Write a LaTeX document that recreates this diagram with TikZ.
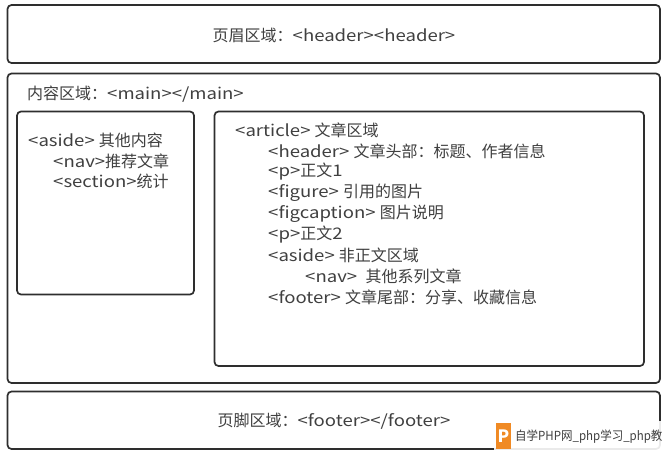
\documentclass[tikz,border=0pt]{standalone}
\usepackage{fontspec}
\setmainfont{Noto Sans CJK SC}[FakeStretch=1.16]
\newfontfamily\cjkfont{Noto Sans CJK SC}
\newfontfamily\wmfont{Noto Sans CJK SC}[FakeStretch=0.92]
\newcommand\zh[1]{{\cjkfont #1}}
\definecolor{boxline}{HTML}{2E2E2E}
\definecolor{txt}{HTML}{404040}
\definecolor{wmorange}{HTML}{F08A24}
\begin{document}
\begin{tikzpicture}[x=1pt,y=-1pt,
  region/.style={draw=boxline,line width=1.7pt,rounded corners=4pt},
  label/.style={anchor=west,inner sep=0pt,text=txt,font=\fontsize{16}{18}\selectfont},
  clabel/.style={anchor=center,inner sep=0pt,text=txt,font=\fontsize{16}{18}\selectfont}]
\useasboundingbox (0,0) rectangle (665,456);
\fill[white] (0,0) rectangle (665,456);
% boxes
\draw[region] (7.5,5) rectangle (660,63);
\draw[region] (7.5,73.5) rectangle (660,383);
\draw[region] (17,111.5) rectangle (194,294.5);
\draw[region] (214.5,111.5) rectangle (644,366);
\draw[region] (7.5,391.5) rectangle (660,449);
% texts
\node[clabel] (hdr) at (334,35) {\zh{页眉区域：}<header><header>};
\node[label] (mainlbl) at (27,94) {\zh{内容区域：}<main></main>};
\node[label] (as1) at (28,140.5) {<aside> \zh{其他内容}};
\node[label] (as2) at (53,161) {<nav>\zh{推荐文章}};
\node[label] (as3) at (53,181.5) {<section>\zh{统计}};
\node[label] (ar1) at (235,130) {<article> \zh{文章区域}};
\node[label] (ar2) at (268,150.9) {<header> \zh{文章头部：标题、作者信息}};
\node[label] (ar3) at (268,171.8) {<p>\zh{正文}1};
\node[label] (ar4) at (268,192.6) {<figure> \zh{引用的图片}};
\node[label] (ar5) at (268,213.5) {<figcaption> \zh{图片说明}};
\node[label] (ar6) at (268,234.4) {<p>\zh{正文}2};
\node[label] (ar7) at (268,255.3) {<aside> \zh{非正文区域}};
\node[label] (ar8) at (305,276.1) {<nav>\ \ \zh{其他系列文章}};
\node[label] (ar9) at (268,297) {<footer> \zh{文章尾部：分享、收藏信息}};
\node[clabel] (ftr) at (334,421.5) {\zh{页脚区域：}<footer></footer>};
% watermark
\fill[white,opacity=0.9] (494,421) rectangle (665,451);
\fill[wmorange] (496,423) rectangle (511,449);
\node[anchor=center,inner sep=0pt,text=white,font=\cjkfont\fontsize{17}{17}\selectfont\bfseries] (wmp) at (503.5,436) {P};
\node[anchor=west,inner sep=0pt,text=txt,font=\wmfont\fontsize{12.5}{14}\selectfont] (wmt) at (515,437) {自学PHP网\_php学习\_php教};
\end{tikzpicture}
\end{document}
